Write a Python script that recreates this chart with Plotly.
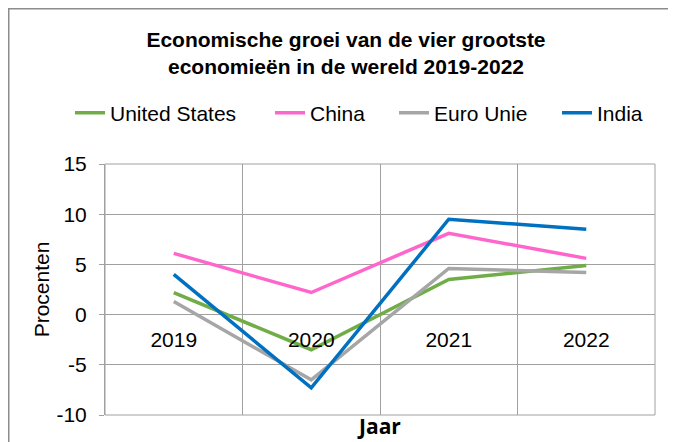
import plotly.graph_objects as go

years = ["2019", "2020", "2021", "2022"]
us = [2.2, -3.5, 3.5, 4.9]
china = [6.1, 2.2, 8.1, 5.6]
eu = [1.3, -6.5, 4.6, 4.2]
india = [4.0, -7.3, 9.5, 8.5]

series_names = ["United States", "China", "Euro Unie", "India"]
series_values = [us, china, eu, india]
colors = ["#70AD47", "#FF66CC", "#A6A6A6", "#0070C0"]

y_ticks = [-10, -5, 0, 5, 10, 15]
y_tick_labels = ["-10", "-5", "0", "5", "10", "15"]

FONT = "Liberation Sans, Arial, sans-serif"
GRID = "#A0A0A0"
FS = 21

# page body has an 8px margin: figure coordinates = window coordinates - 8
W, H = 676, 442
L, T = 97, 156
R, B = W - 647, H - 407
pw, ph = W - L - R, H - T - B

def px_x(x):
    return (x - L) / pw

def px_y(y):
    return (H - B - y) / ph

legend_keys = ["legend", "legend2", "legend3", "legend4"]
legend_item_x = [62, 262, 386, 549]

fig = go.Figure()
for name, vals, col, lk in zip(series_names, series_values, colors, legend_keys):
    fig.add_trace(go.Scatter(x=years, y=vals, name=name, mode="lines",
                             line=dict(color=col, width=3.5), legend=lk))

legend_layouts = {}
for lk, lx in zip(legend_keys, legend_item_x):
    legend_layouts[lk] = dict(orientation="h", x=lx / W, xanchor="left", xref="container",
                              y=1 - 105 / H, yanchor="middle", yref="container",
                              font=dict(size=FS, family=FONT), itemwidth=30,
                              bgcolor="rgba(0,0,0,0)")

fig.update_layout(
    width=W, height=H,
    margin=dict(l=L, r=R, t=T, b=B, autoexpand=False),
    paper_bgcolor="white", plot_bgcolor="white",
    font=dict(family=FONT, size=FS, color="black"),
    title=dict(text="<b>Economische groei van de vier grootste<br>economieën in de wereld 2019-2022</b>",
               x=(346 - 8) / W, xanchor="center", xref="container",
               y=1 - 39 / H, yanchor="top", yref="container",
               font=dict(size=21, family=FONT, color="black")),
    showlegend=True,
    xaxis=dict(type="category", range=[-0.5, 3.5], tickson="boundaries",
               showgrid=True, gridcolor=GRID, gridwidth=1,
               showline=False, zeroline=False, ticks="",
               anchor="free", position=10 / 25,
               ticklabelstandoff=10,
               tickfont=dict(size=FS, family=FONT)),
    yaxis=dict(range=[-10, 15], tickvals=y_ticks, ticktext=y_tick_labels,
               showgrid=True,
               gridcolor=GRID, gridwidth=1, zeroline=False,
               showline=True, linecolor=GRID, linewidth=1,
               ticks="outside", ticklen=5, tickcolor=GRID,
               ticklabelstandoff=8,
               tickfont=dict(size=FS, family=FONT),
               title=dict(text="Procenten", standoff=1,
                          font=dict(size=FS, family=FONT))),
    shapes=[
        dict(type="rect", xref="paper", yref="paper", x0=0, x1=1, y0=0, y1=1,
             line=dict(color=GRID, width=1), layer="below"),
        dict(type="rect", xref="paper", yref="paper",
             x0=px_x(0.75), x1=px_x(700), y0=px_y(470), y1=px_y(0.75),
             line=dict(color="#8C8C8C", width=1.5)),
    ],
    annotations=[
        dict(text="<b>Jaar</b>", xref="paper", yref="paper",
             x=px_x(371), y=px_y(418), xanchor="center", yanchor="middle",
             showarrow=False, font=dict(size=21, family="Open Sans, sans-serif", color="black")),
    ],
    **legend_layouts,
)

fig.write_html("out.html")
